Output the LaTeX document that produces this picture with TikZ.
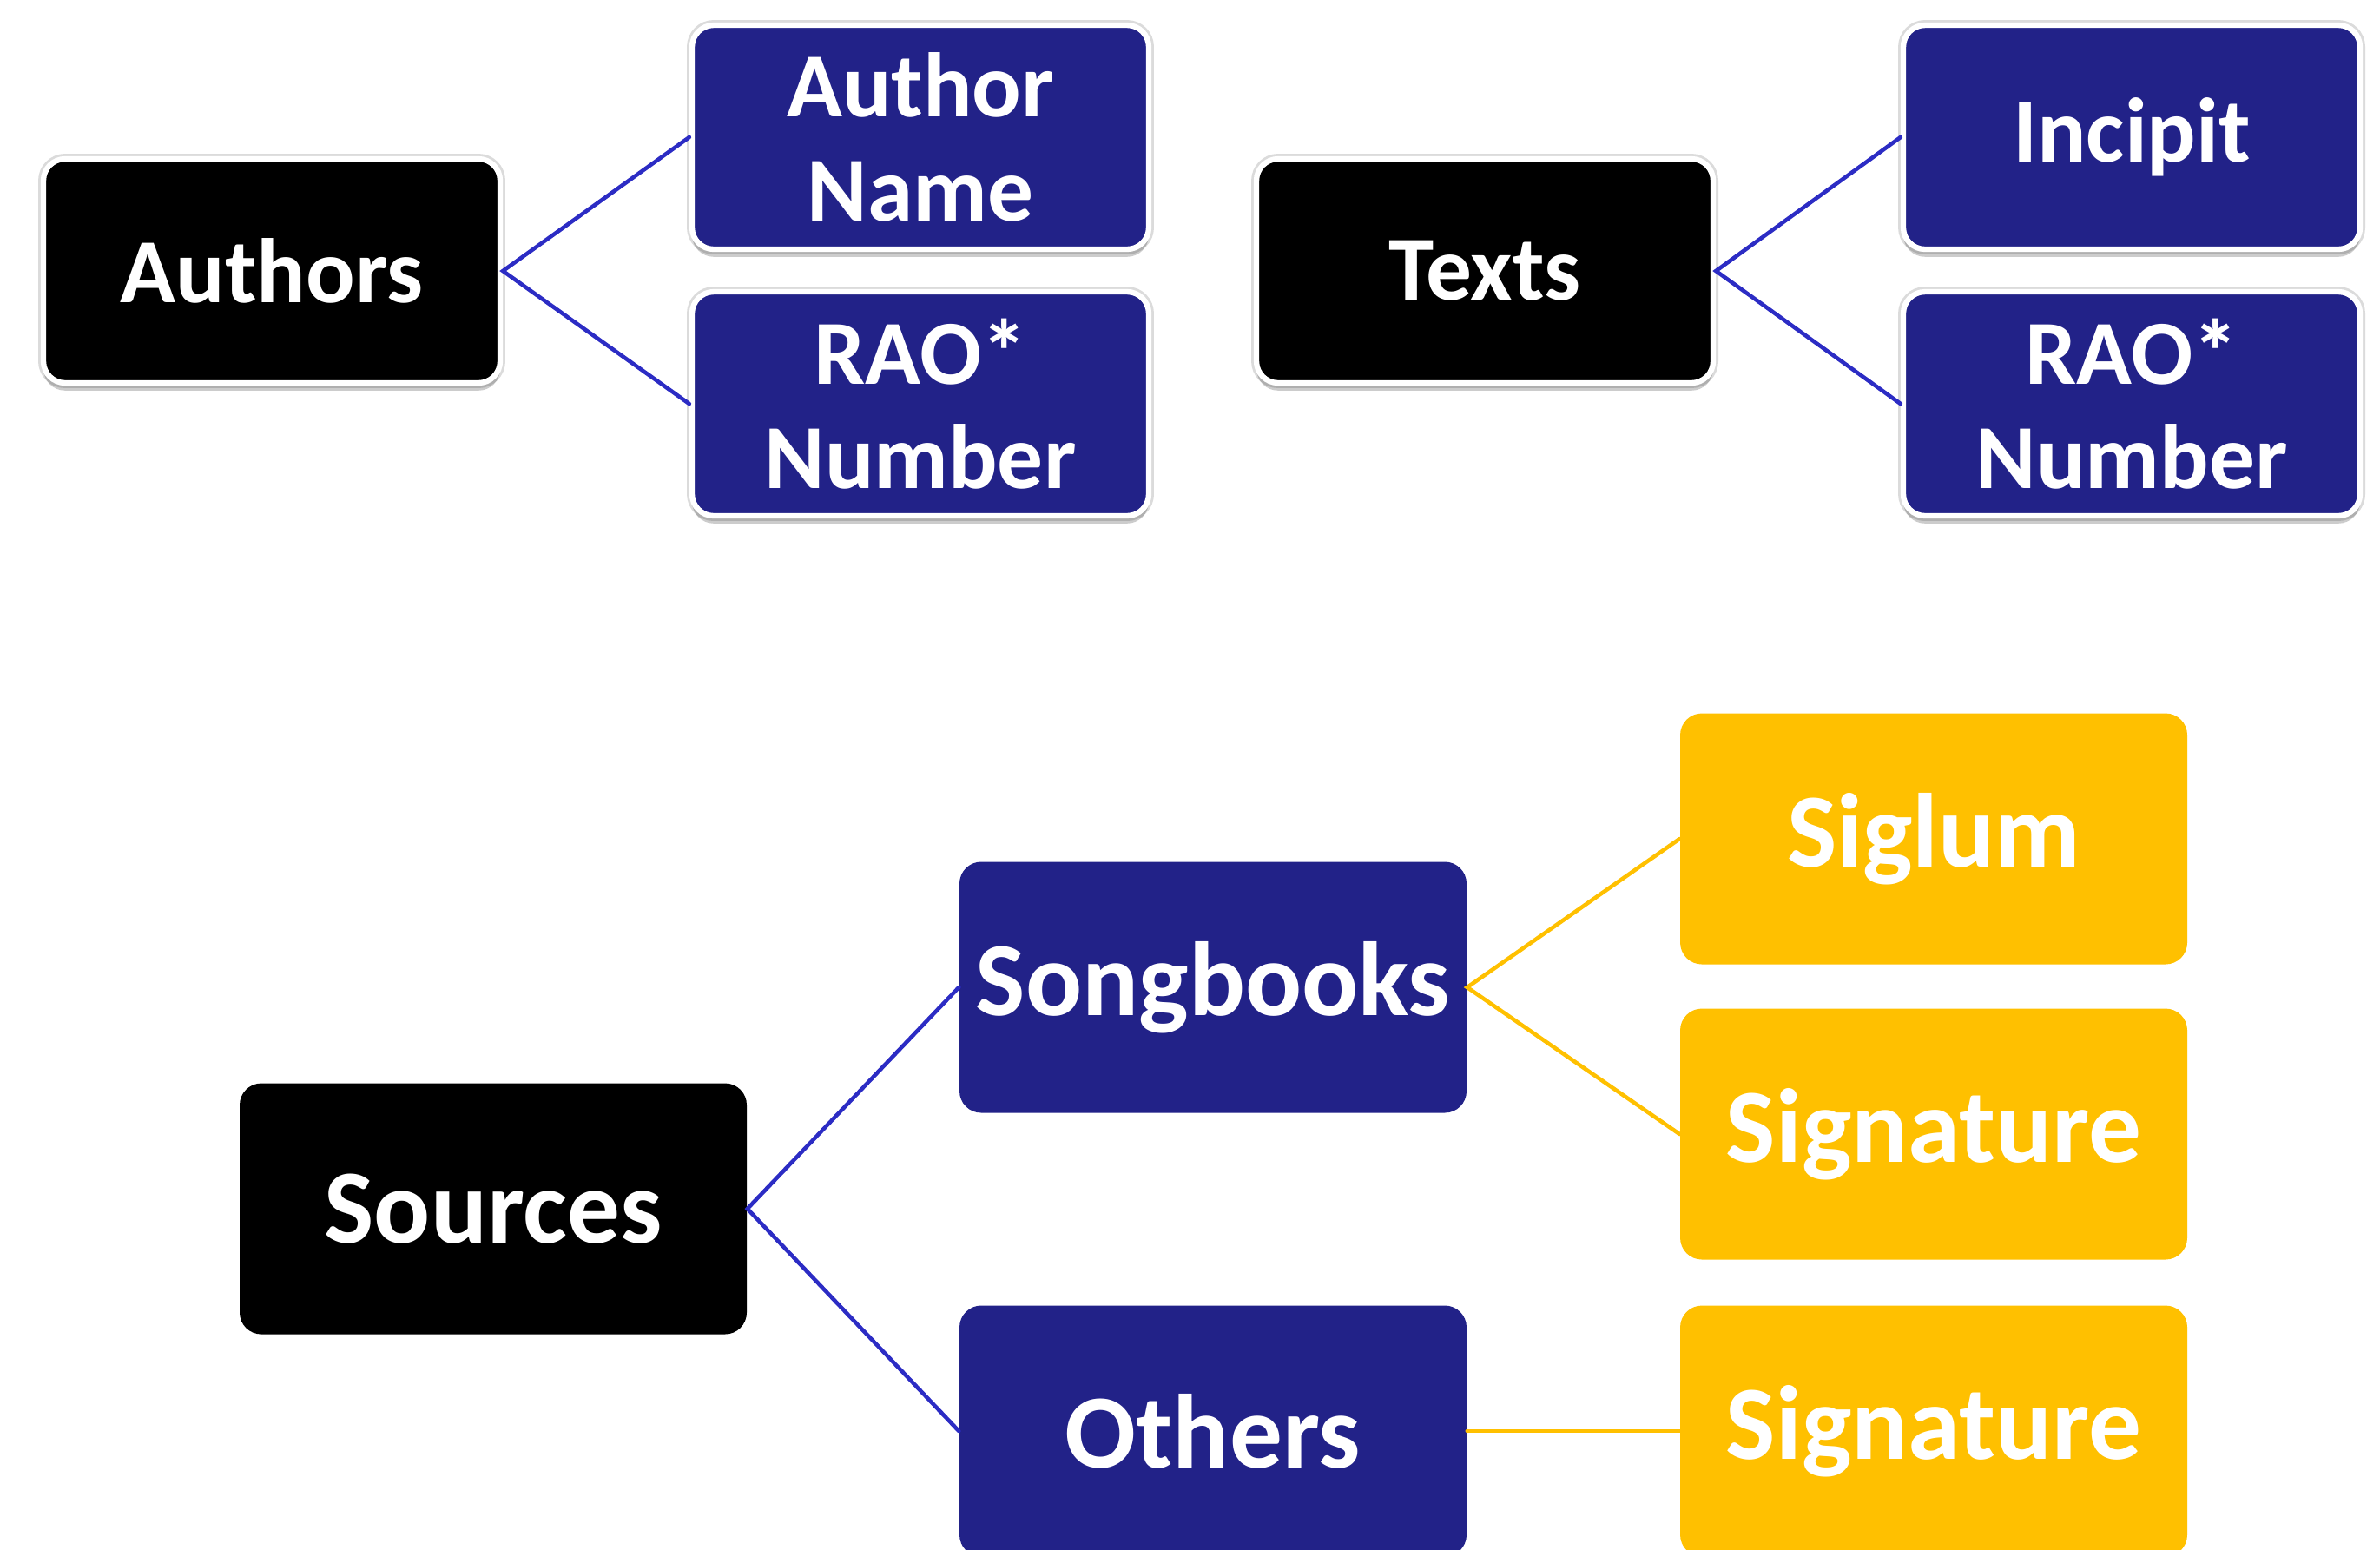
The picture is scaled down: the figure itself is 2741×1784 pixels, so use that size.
\documentclass[tikz,border=0pt]{standalone}
\usepackage{fontspec}
\setmainfont{Carlito}
\usetikzlibrary{shadows}
\definecolor{navy}{RGB}{34,34,136}
\definecolor{gold}{RGB}{255,192,0}
\definecolor{linkblue}{RGB}{44,44,196}

\begin{document}
\begin{tikzpicture}[x=0.1mm,y=-0.1mm,line cap=round]
	\tikzstyle{topbox}=[rectangle,rounded corners=0.25cm,draw=white,line width=1.8pt,text=white,font=\bfseries\fontsize{30}{34}\selectfont,align=center,inner sep=0pt,minimum width=5.26cm,minimum height=2.58cm,preaction={draw=black!14,line width=3.4pt},drop shadow={shadow xshift=0pt,shadow yshift=-2.5pt,fill=black,opacity=0.2}];
	\tikzstyle{head}=[topbox,fill=black];
	\tikzstyle{leaf}=[topbox,fill=navy];
	\tikzstyle{lowbox}=[rectangle,rounded corners=0.25cm,text=white,font=\bfseries\fontsize{34.5}{40}\selectfont,align=center,inner sep=0pt,minimum width=5.84cm,minimum height=2.89cm];
	\tikzstyle{bluelink}=[draw=linkblue,line width=1.3pt];
	\tikzstyle{goldlink}=[draw=gold,line width=1.3pt];

	\useasboundingbox (0,0) rectangle (2741,1784);

	% top: authors and texts
	\node[head] (authors) at (313,312) {Authors};
	\node[leaf] (authorname) at (1060,158) {Author\\Name};
	\node[leaf] (raoauthor) at (1060,465) {RAO*\\Number};
	\node[head] (texts) at (1710,312) {Texts};
	\node[leaf] (incipit) at (2455,158) {Incipit};
	\node[leaf] (raotext) at (2455,465) {RAO*\\Number};

	\draw[bluelink] (authorname.west) -- (authors.east) -- (raoauthor.west);
	\draw[bluelink] (incipit.west) -- (texts.east) -- (raotext.west);

	% bottom: sources
	\node[lowbox,fill=black] (sources) at (568,1392) {Sources};
	\node[lowbox,fill=navy] (songbooks) at (1397,1137) {Songbooks};
	\node[lowbox,fill=navy] (others) at (1397,1648) {Others};
	\node[lowbox,fill=gold] (siglum) at (2227,966) {Siglum};
	\node[lowbox,fill=gold] (sigsong) at (2227,1306) {Signature};
	\node[lowbox,fill=gold] (sigother) at (2227,1648) {Signature};

	\draw[bluelink] (songbooks.west) -- (sources.east) -- (others.west);
	\draw[goldlink] (siglum.west) -- (songbooks.east) -- (sigsong.west);
	\draw[goldlink] (others.east) -- (sigother.west);
\end{tikzpicture}
\end{document}
